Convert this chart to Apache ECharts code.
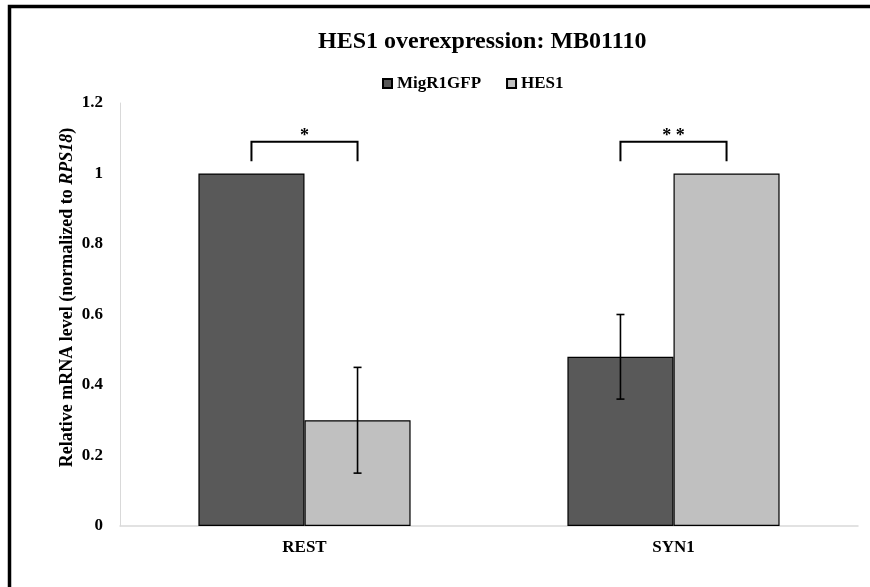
<!DOCTYPE html>
<html>
<head>
<meta charset="utf-8">
<script src="https://cdn.jsdelivr.net/npm/echarts@6/dist/echarts.min.js"></script>
<style>
  html, body { margin: 0; padding: 0; background: #fff; }
  #chart { width: 870px; height: 587px; }
</style>
</head>
<body>
<div id="chart"></div>
<script>
// data
const categories = ["REST", "SYN1"];
const migR1GFP = [1.0, 0.48];
const hes1 = [0.3, 1.0];
const migR1GFPErr = [0, 0.12];
const hes1Err = [0.15, 0];
const significance = ["*", "**"];
const bracketTop = 1.09;
const bracketLeg = 1.035;
const yMin = 0, yMax = 1.2, yStep = 0.2;

const FONT = "Liberation Serif";
const DARK = "#595959";
const LIGHT = "#c0c0c0";
// half of one bar's share of the band (barCategoryGap 42.5%, barGap 0)
const BAR_OFFSET = 0.14375;

const chart = echarts.init(document.getElementById("chart"));

const errorBar = (sign) => (params, api) => {
  const band = api.size([1, 0])[0];
  const i = api.value(0);
  const v = api.value(1);
  const e = api.value(2);
  const x = api.coord([i, v])[0] + sign * band * BAR_OFFSET;
  const hi = api.coord([i, v + e])[1];
  const lo = api.coord([i, v - e])[1];
  const style = { stroke: "#000", lineWidth: 1.6 };
  return {
    type: "group",
    children: [
      { type: "line", shape: { x1: x, y1: hi, x2: x, y2: lo }, style },
      { type: "line", shape: { x1: x - 4, y1: hi, x2: x + 4, y2: hi }, style },
      { type: "line", shape: { x1: x - 4, y1: lo, x2: x + 4, y2: lo }, style },
    ],
  };
};

const bracket = (params, api) => {
  const band = api.size([1, 0])[0];
  const i = api.value(0);
  const cx = api.coord([i, 0])[0];
  const l = cx - band * BAR_OFFSET;
  const r = cx + band * BAR_OFFSET;
  const yT = api.coord([i, bracketTop])[1];
  const yL = api.coord([i, bracketLeg])[1];
  return {
    type: "group",
    children: [
      {
        type: "polyline",
        shape: { points: [[l, yL], [l, yT], [r, yT], [r, yL]] },
        style: { stroke: "#000", lineWidth: 2, fill: null },
      },
      {
        type: "text",
        x: cx,
        y: yT - 5,
        style: {
          text: significance[params.dataIndex].split("").join(" "),
          align: "center",
          verticalAlign: "middle",
          font: "bold 18px " + FONT,
          fill: "#000",
        },
      },
    ],
  };
};

const errData = (vals, errs) =>
  vals.map((v, i) => [i, v, errs[i]]).filter((d) => d[2] > 0);

chart.setOption({
  animation: false,
  backgroundColor: "#fff",
  title: {
    text: "HES1 overexpression: MB01110",
    left: 313,
    top: 25,
    textStyle: { fontFamily: FONT, fontWeight: "bold", fontSize: 24, color: "#000" },
  },
  legend: {
    data: ["MigR1GFP", "HES1"],
    left: 377,
    top: 70,
    icon: "rect",
    itemWidth: 9,
    itemHeight: 9,
    itemGap: 25,
    textStyle: { fontFamily: FONT, fontWeight: "bold", fontSize: 17, color: "#000" },
  },
  graphic: [
    {
      type: "rect",
      shape: { x: 9.5, y: 6.5, width: 900, height: 700 },
      style: { fill: null, stroke: "#000", lineWidth: 3.5 },
      silent: true,
    },
  ],
  grid: { left: 120, right: 12, top: 103, bottom: 61, containLabel: false },
  xAxis: {
    type: "category",
    data: categories,
    axisLine: { lineStyle: { color: "#d9d9d9", width: 1.5 } },
    axisTick: { show: false },
    axisLabel: {
      margin: 13,
      fontFamily: FONT,
      fontWeight: "bold",
      fontSize: 17,
      color: "#000",
    },
  },
  yAxis: {
    type: "value",
    min: yMin,
    max: yMax,
    interval: yStep,
    name: "Relative mRNA level (normalized to {i|RPS18})",
    nameLocation: "middle",
    nameGap: 44,
    nameMoveOverlap: false,
    nameTextStyle: {
      fontFamily: FONT,
      fontWeight: "bold",
      fontSize: 18,
      color: "#000",
      padding: [0, 0, 0, 34],
      rich: {
        i: { fontFamily: FONT, fontWeight: "bold", fontStyle: "italic", fontSize: 18, color: "#000" },
      },
    },
    axisLine: { show: true, lineStyle: { color: "#d9d9d9", width: 1 } },
    axisTick: { show: false },
    splitLine: { show: false },
    axisLabel: {
      margin: 17,
      fontFamily: FONT,
      fontWeight: "bold",
      fontSize: 17,
      color: "#000",
    },
  },
  series: [
    {
      name: "MigR1GFP",
      type: "bar",
      data: migR1GFP,
      barGap: "0%",
      barCategoryGap: "42.5%",
      itemStyle: { color: DARK, borderColor: "#000", borderWidth: 1.2 },
    },
    {
      name: "HES1",
      type: "bar",
      data: hes1,
      barGap: "0%",
      barCategoryGap: "42.5%",
      itemStyle: { color: LIGHT, borderColor: "#000", borderWidth: 1.2 },
    },
    {
      type: "custom",
      renderItem: errorBar(-1),
      data: errData(migR1GFP, migR1GFPErr),
      z: 5,
      silent: true,
    },
    {
      type: "custom",
      renderItem: errorBar(1),
      data: errData(hes1, hes1Err),
      z: 5,
      silent: true,
    },
    {
      type: "custom",
      renderItem: bracket,
      data: categories.map((c, i) => [i, bracketTop]),
      z: 5,
      silent: true,
    },
  ],
});
</script>
</body>
</html>
